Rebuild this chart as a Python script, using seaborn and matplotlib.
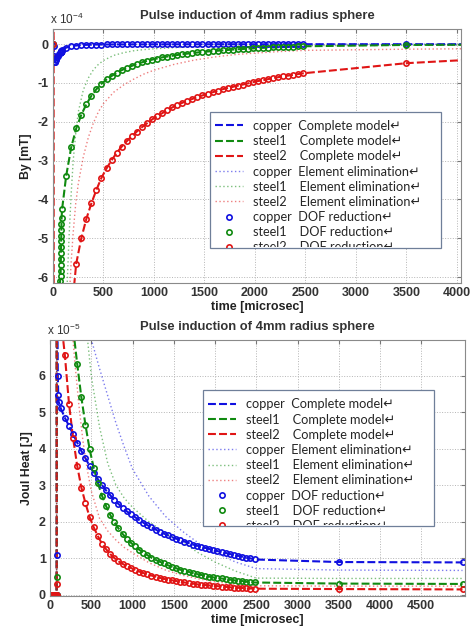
import matplotlib
matplotlib.use("Agg")
import matplotlib.pyplot as plt
import matplotlib.transforms as mtransforms
from matplotlib.patches import Rectangle
from matplotlib.font_manager import FontProperties
import seaborn as sns

# ---------------------------------------------------------------- data
# time axis shared by complete model / DOF reduction (microsec)
t_main = [130, 180, 230, 280, 330, 380, 430, 480, 530, 580,
          630, 680, 730, 780, 830, 880, 930, 980, 1030, 1080,
          1130, 1180, 1230, 1280, 1330, 1380, 1430, 1480, 1530, 1580,
          1630, 1680, 1730, 1780, 1830, 1880, 1930, 1980, 2030, 2080,
          2130, 2180, 2230, 2280, 2330, 2380, 2430, 2480, 3500, 5000]
t_fine_by = [0, 5, 10, 15, 20, 25, 30, 40, 50, 60, 70, 75, 76, 77, 78,
             79, 80, 81, 82, 83, 84, 85, 90]
t_fine_jh = [0, 10, 20, 30, 40, 50, 60, 70, 75, 80, 81, 82, 84, 86, 88,
             90, 95, 100, 105]
# element elimination runs were sampled coarser
t_ee_by = [0, 10, 20, 40, 60, 80, 100, 120, 140, 160, 180, 200, 225, 250,
           300, 350, 400, 450, 500, 600, 700, 800, 900, 1000, 1200, 1400,
           1600, 1800, 2000, 2250, 2500, 3500, 5000]
t_ee_jh = [0, 40, 80, 82, 90, 100, 150, 200, 250, 300, 350, 400, 450, 500,
           600, 700, 800, 900, 1000, 1200, 1400, 1600, 1800, 2000, 2250,
           2500, 3500, 5000]

# By [mT] in units of 1e-4, complete model (DOF reduction lies on top of it)
by_copper_full = [0, -0.06, -0.30, -0.46, -0.45, -0.42, -0.39, -0.34, -0.30, -0.26,
                  -0.23, -0.21, -0.21, -0.20, -0.20, -0.20, -0.19, -0.19, -0.19, -0.18,
                  -0.18, -0.18, -0.16,
                  -0.090, -0.055, -0.035, -0.025, -0.018, -0.014, -0.011, -0.010, -0.009, -0.008,
                  -0.008, -0.007, -0.007, -0.006, -0.006, -0.006, -0.005, -0.005, -0.005, -0.005,
                  -0.005, -0.005, -0.004, -0.004, -0.004, -0.004, -0.004, -0.004, -0.004, -0.004,
                  -0.003, -0.003, -0.003, -0.003, -0.003, -0.003, -0.003, -0.003, -0.003, -0.003,
                  -0.003, -0.002, -0.002, -0.002, -0.002, -0.002, -0.002, -0.002, -0.002, -0.002]
by_steel1_full = [0, -25, -30, -28, -25, -22, -19, -14, -9.0, -6.6,
                  -6.1, -5.98, -5.83, -5.68, -5.53, -5.38, -5.23, -5.08, -4.93, -4.78,
                  -4.63, -4.48, -4.25,
                  -3.40, -2.66, -2.17, -1.82, -1.55, -1.33, -1.16, -1.02, -0.91, -0.82,
                  -0.74, -0.67, -0.61, -0.56, -0.51, -0.47, -0.43, -0.40, -0.37, -0.34,
                  -0.32, -0.30, -0.28, -0.26, -0.245, -0.23, -0.215, -0.20, -0.19, -0.18,
                  -0.17, -0.16, -0.15, -0.14, -0.13, -0.125, -0.115, -0.11, -0.10, -0.095,
                  -0.09, -0.085, -0.08, -0.075, -0.07, -0.065, -0.06, -0.055, -0.02, -0.01]
by_steel2_full = [0, 8.0, -40, -38, -36, -34, -32, -29, -26, -23,
                  -21, -20, -19.8, -19.6, -19.4, -19.2, -19, -18.8, -18.6, -18.4,
                  -18.2, -18, -17,
                  -9.5, -7.0, -5.65, -5.0, -4.5, -4.1, -3.75, -3.44, -3.2, -2.99,
                  -2.80, -2.64, -2.50, -2.37, -2.25, -2.14, -2.04, -1.94, -1.86, -1.78,
                  -1.70, -1.63, -1.57, -1.51, -1.46, -1.41, -1.36, -1.32, -1.28, -1.24,
                  -1.20, -1.16, -1.13, -1.10, -1.07, -1.04, -1.01, -0.98, -0.95, -0.93,
                  -0.90, -0.88, -0.85, -0.83, -0.81, -0.79, -0.77, -0.75, -0.49, -0.28]
by_copper_dof = by_copper_full
by_steel1_dof = by_steel1_full
by_steel2_dof = by_steel2_full
by_copper_ee = [0, -0.30, -0.36, -0.26, -0.18, -0.12, -0.085, -0.06, -0.045, -0.035,
                -0.028, -0.022, -0.017, -0.013, -0.009, -0.007, -0.006, -0.005, -0.004,
                -0.003, -0.003, -0.002, -0.002, -0.002, -0.001, -0.001, -0.001, -0.001,
                -0.001, -0.001, -0.001, 0, 0]
by_steel1_ee = [0, -30, -28, -22, -16, -12, -9.5, -7.8, -6.2, -4.9,
                -3.85, -3.0, -2.3, -1.75, -1.18, -0.87, -0.66, -0.52, -0.42,
                -0.29, -0.22, -0.17, -0.14, -0.12, -0.09, -0.07, -0.06, -0.055,
                -0.05, -0.045, -0.04, -0.03, -0.02]
by_steel2_ee = [0, -40, -38, -30, -22, -16, -12.5, -10, -8.2, -6.6,
                -5.6, -4.85, -4.1, -3.6, -2.9, -2.4, -2.03, -1.74, -1.53,
                -1.24, -1.05, -0.9, -0.77, -0.67, -0.52, -0.41, -0.33, -0.27,
                -0.23, -0.19, -0.16, -0.13, -0.10]

# Joule heat [J] in units of 1e-5
jh_copper_full = [0, 0, 0, 0, 0, 0, 0, 0, 0, 0, 1.08, 10, 12, 10, 8.5, 7.5, 6.0, 5.47, 5.29,
                  5.11, 4.85, 4.63, 4.40, 4.17, 3.94, 3.74, 3.53, 3.35, 3.17,
                  3.01, 2.86, 2.73, 2.60, 2.49, 2.39, 2.29, 2.21, 2.13, 2.05,
                  1.98, 1.91, 1.85, 1.79, 1.73, 1.68, 1.63, 1.58, 1.54, 1.50,
                  1.46, 1.42, 1.38, 1.35, 1.32, 1.29, 1.26, 1.23, 1.20, 1.17,
                  1.15, 1.12, 1.10, 1.07, 1.05, 1.02, 1.00, 0.97, 0.90, 0.89]
jh_steel1_full = [0, 0, 0, 0, 0, 0, 0, 0, 0, 0, 0.5, 18, 22, 21, 20, 19, 17, 16, 15,
                  12.5, 10.3, 8.6, 7.3, 6.32, 5.41, 4.65, 3.99, 3.48, 3.06,
                  2.72, 2.43, 2.19, 1.99, 1.82, 1.67, 1.54, 1.43, 1.33, 1.24,
                  1.16, 1.09, 1.02, 0.96, 0.91, 0.86, 0.81, 0.77, 0.73, 0.69,
                  0.66, 0.63, 0.60, 0.57, 0.55, 0.52, 0.50, 0.48, 0.46, 0.45,
                  0.43, 0.42, 0.40, 0.39, 0.38, 0.36, 0.35, 0.34, 0.31, 0.30]
jh_steel2_full = [0, 0, 0, 0, 0, 0, 0, 0, 0, 0, 0.3, 25, 28, 27, 25, 24, 20, 18, 16,
                  7.6, 6.57, 5.24, 4.29, 3.53, 2.94, 2.51, 2.13, 1.85, 1.61,
                  1.40, 1.25, 1.12, 1.01, 0.92, 0.85, 0.79, 0.74, 0.69, 0.64,
                  0.60, 0.56, 0.53, 0.50, 0.47, 0.44, 0.42, 0.40, 0.38, 0.36,
                  0.34, 0.32, 0.31, 0.29, 0.28, 0.27, 0.26, 0.25, 0.24, 0.23,
                  0.22, 0.21, 0.20, 0.195, 0.19, 0.18, 0.175, 0.17, 0.16, 0.15]
jh_copper_dof = jh_copper_full
jh_steel1_dof = jh_steel1_full
jh_steel2_dof = jh_steel2_full
jh_copper_ee = [0, 0, 0, 20, 18, 16, 13, 11.5, 10.3, 9.3, 8.5, 7.9, 7.4, 7.0,
                6.2, 5.45, 4.7, 4.05, 3.45, 2.7, 2.15, 1.75, 1.42, 1.15, 0.9,
                0.72, 0.68, 0.67]
jh_steel1_ee = [0, 0, 0, 18, 16, 14, 11.5, 10, 9.2, 8.6, 8.1, 7.7, 7.1, 6.0,
                4.6, 3.6, 3.0, 2.65, 2.4, 2.0, 1.7, 1.45, 1.15, 0.9, 0.65,
                0.46, 0.45, 0.45]
jh_steel2_ee = [0, 0, 0, 22, 20, 18, 13, 10, 7.8, 6.4, 5.2, 4.2, 3.45, 2.85,
                2.1, 1.75, 1.5, 1.3, 1.15, 0.88, 0.68, 0.54, 0.44, 0.36, 0.29,
                0.25, 0.24, 0.24]

materials = ["copper", "steel1", "steel2"]
mat_label = {"copper": "copper  ", "steel1": "steel1    ", "steel2": "steel2    "}
mat_color = {"copper": "#1010e0", "steel1": "#108a10", "steel2": "#e01515"}

# ---------------------------------------------------------------- style
sns.set_style("white")
plt.rcParams['font.family'] = ['Liberation Sans', 'DejaVu Sans']
plt.rcParams['axes.unicode_minus'] = False
plt.rcParams['mathtext.fontset'] = 'custom'
plt.rcParams['mathtext.rm'] = 'Liberation Sans'

dash = (0, (3.8, 1.5))
dot = (0, (1, 1.8))
legend_font = FontProperties(family=['Lato', 'DejaVu Sans'], size=9.2)


def draw_panel(ax, t_full, full, dof, t_ee, ee, xlim, xticks, ylim, yticks,
               ylabel, exponent, box, anchor):
    for m in materials:
        sns.lineplot(x=t_full, y=full[m], ax=ax, color=mat_color[m], lw=1.5,
                     linestyle=dash, estimator=None, sort=False,
                     label=mat_label[m] + "Complete model\u21b5")
    for m in materials:
        sns.lineplot(x=t_ee, y=ee[m], ax=ax, color=mat_color[m], lw=1.0,
                     linestyle=dot, alpha=0.55, estimator=None, sort=False,
                     label=mat_label[m] + "Element elimination\u21b5")
    for m in materials:
        sns.lineplot(x=t_full, y=dof[m], ax=ax, color=mat_color[m],
                     linestyle='none', marker='o', markersize=3.8,
                     markerfacecolor='none', markeredgecolor=mat_color[m],
                     mew=1.2, estimator=None, sort=False,
                     label=mat_label[m] + "DOF reduction\u21b5")

    ax.set_xlim(*xlim)
    ax.set_ylim(*ylim)
    ax.set_xticks(xticks)
    ax.set_yticks(yticks)
    ax.grid(True, linestyle=':', color='#b5b5b5', lw=0.7)
    ax.tick_params(direction='in', length=3, top=True, right=True,
                   color='#777777', labelsize=9, labelcolor='#333333', pad=3)
    for lbl in ax.get_xticklabels() + ax.get_yticklabels():
        lbl.set_fontweight('bold')
    for sp in ax.spines.values():
        sp.set_color('#8a8a8a')
        sp.set_linewidth(0.8)

    ax.set_title("Pulse induction of 4mm radius sphere", fontsize=9.4,
                 fontweight='bold', color='#333333', pad=7)
    ax.set_xlabel("time [microsec]", fontsize=9, fontweight='bold',
                  color='#222222', labelpad=1)
    ax.set_ylabel(ylabel, fontsize=8.8, fontweight='bold', color='#222222',
                  labelpad=4)
    ax.text(-0.008, 1.008, "x 10$^{%d}$" % exponent, transform=ax.transAxes,
            fontsize=8.5, color='#333333', ha='left', va='bottom')

    # legend: white box whose lower edge cuts the last entry
    x0, y0, x1, y1 = box
    ax.add_patch(Rectangle((x0, y0), x1 - x0, y1 - y0, transform=ax.transAxes,
                           facecolor='white', edgecolor='#6f7f99', lw=0.9,
                           zorder=4))
    handles, labels = ax.get_legend_handles_labels()
    leg = ax.legend(handles, labels, loc='upper left', bbox_to_anchor=anchor,
                    frameon=False, prop=legend_font, handlelength=2.2,
                    handletextpad=0.8, labelspacing=0.25, borderaxespad=0,
                    borderpad=0, numpoints=1)
    leg.set_zorder(5)
    clip = mtransforms.TransformedBbox(
        mtransforms.Bbox.from_extents(x0, y0 + 0.004, x1, y1), ax.transAxes)
    for art in list(leg.get_texts()) + list(leg.legend_handles):
        art.set_clip_box(clip)
        art.set_clip_on(True)


fig = plt.figure(figsize=(4.75, 6.27), dpi=100)
ax1 = fig.add_axes([53 / 475, 1 - 283 / 627, 408 / 475, 254 / 627])
ax2 = fig.add_axes([50 / 475, 1 - 596 / 627, 415 / 475, 256 / 627])

draw_panel(ax1, t_fine_by + t_main,
           {"copper": by_copper_full, "steel1": by_steel1_full, "steel2": by_steel2_full},
           {"copper": by_copper_dof, "steel1": by_steel1_dof, "steel2": by_steel2_dof},
           t_ee_by,
           {"copper": by_copper_ee, "steel1": by_steel1_ee, "steel2": by_steel2_ee},
           (0, 4040), [0, 500, 1000, 1500, 2000, 2500, 3000, 3500, 4000],
           (-6.15, 0.39), [-6, -5, -4, -3, -2, -1, 0],
           "By [mT]", -4, (0.385, 0.138, 0.951, 0.673), (0.397, 0.642))

draw_panel(ax2, t_fine_jh + t_main,
           {"copper": jh_copper_full, "steel1": jh_steel1_full, "steel2": jh_steel2_full},
           {"copper": jh_copper_dof, "steel1": jh_steel1_dof, "steel2": jh_steel2_dof},
           t_ee_jh,
           {"copper": jh_copper_ee, "steel1": jh_steel1_ee, "steel2": jh_steel2_ee},
           (0, 5030), [0, 500, 1000, 1500, 2000, 2500, 3000, 3500, 4000, 4500],
           (-0.03, 6.98), [0, 1, 2, 3, 4, 5, 6],
           "Joul Heat [J]", -5, (0.369, 0.273, 0.925, 0.805), (0.381, 0.772))

fig.savefig("out.png", dpi=100)
